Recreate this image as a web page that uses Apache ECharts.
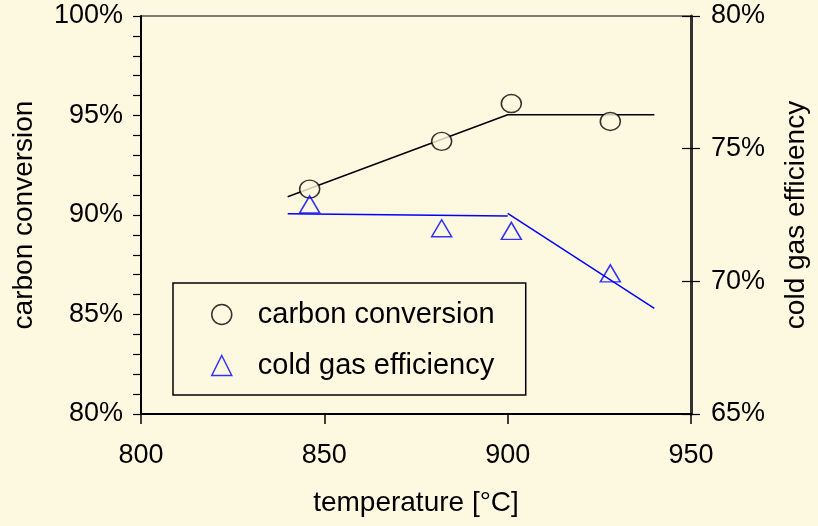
<!DOCTYPE html>
<html>
<head>
<meta charset="utf-8">
<script src="https://cdn.jsdelivr.net/npm/echarts@6/dist/echarts.min.js"></script>
<style>
  html, body { margin: 0; padding: 0; background: #fdf9e1; }
  #chart { width: 818px; height: 526px; }
</style>
</head>
<body>
<div id="chart"></div>
<script>
// Gasification temperature [°C] of each run
const temperatures = [846, 882, 901, 928];
// Measured carbon conversion [%] (left axis)
const carbonConversion = [91.3, 93.7, 95.6, 94.7];
// Measured cold gas efficiency [%] (right axis)
const coldGasEfficiency = [72.9, 72.0, 71.9, 70.3];

// Trend lines: [temperature, value]
const carbonTrend = [[840, 90.92], [900, 95.04], [940, 95.04]];
const coldGasTrendLow = [[840, 72.55], [900, 72.46]];
const coldGasTrendHigh = [[900, 72.56], [940, 68.98]];

// Axis ranges and tick steps
const tempAxis = { min: 800, max: 950, step: 50 };
const carbonAxis = { min: 80, max: 100, step: 5 };
const coldGasAxis = { min: 65, max: 80, step: 5 };

const BG = '#fdf9e1';
const FONT = '"Liberation Sans", Arial, sans-serif';
const BLUE = '#0000ff';

const pairs = (xs, ys) => xs.map((x, i) => [x, ys[i]]);

const chart = echarts.init(document.getElementById('chart'), null, { renderer: 'canvas' });

const yLabel = {
  fontSize: 27, fontFamily: FONT, color: '#000',
  formatter: '{value}%', padding: [6, 0, 0, 0]
};

chart.setOption({
  backgroundColor: BG,
  animation: false,
  textStyle: { fontFamily: FONT, color: '#000' },
  grid: {
    left: 141, right: 120, top: 16, bottom: 112,
    show: true, borderColor: '#000', borderWidth: 1, backgroundColor: BG
  },
  legend: {
    orient: 'vertical',
    left: 173, top: 283,
    padding: [17, 31, 15, 38],
    itemGap: 22,
    itemWidth: 20, itemHeight: 20,
    borderColor: '#000', borderWidth: 1.5, borderRadius: 0,
    backgroundColor: BG,
    selectedMode: false,
    textStyle: { fontSize: 29, fontFamily: FONT, color: '#000', lineHeight: 29, padding: [0, 0, 0, 21] },
    data: [
      { name: 'carbon conversion', icon: 'circle',
        itemStyle: { color: BG, borderColor: '#000', borderWidth: 1.5 } },
      { name: 'cold gas efficiency', icon: 'triangle',
        itemStyle: { color: BG, borderColor: BLUE, borderWidth: 1.5 } }
    ]
  },
  xAxis: {
    type: 'value',
    min: tempAxis.min, max: tempAxis.max, interval: tempAxis.step,
    name: 'temperature [°C]', nameLocation: 'middle', nameGap: 75,
    nameTextStyle: { fontSize: 28, fontFamily: FONT, color: '#000' },
    axisLine: { lineStyle: { color: '#000', width: 2 } },
    axisTick: { length: 10, lineStyle: { color: '#000', width: 1.5 } },
    axisLabel: { fontSize: 27, fontFamily: FONT, color: '#000', margin: 28 },
    splitLine: { show: false }
  },
  yAxis: [
    {
      type: 'value', position: 'left',
      min: carbonAxis.min, max: carbonAxis.max, interval: carbonAxis.step,
      name: 'carbon conversion', nameLocation: 'middle', nameRotate: 90, nameGap: 103,
      nameTextStyle: { fontSize: 28, fontFamily: FONT, color: '#000' },
      axisLine: { show: true, lineStyle: { color: '#000', width: 2 } },
      axisTick: { show: true, length: 8, lineStyle: { color: '#000', width: 1.2 } },
      minorTick: { show: true, splitNumber: 5, length: 8, lineStyle: { color: '#000', width: 1.2 } },
      axisLabel: Object.assign({ margin: 18 }, yLabel),
      splitLine: { show: false }
    },
    {
      type: 'value', position: 'right',
      min: coldGasAxis.min, max: coldGasAxis.max, interval: coldGasAxis.step,
      name: 'cold gas efficiency', nameLocation: 'middle', nameRotate: 90, nameGap: 91,
      nameTextStyle: { fontSize: 28, fontFamily: FONT, color: '#000' },
      axisLine: { show: true, lineStyle: { color: '#333', width: 3 } },
      axisTick: { show: true, length: 9, lineStyle: { color: '#000', width: 1.2 } },
      axisLabel: Object.assign({ margin: 20 }, yLabel),
      splitLine: { show: false }
    },
    {
      // inner half of the right-hand ticks, so they cross the axis line
      type: 'value', position: 'right',
      min: coldGasAxis.min, max: coldGasAxis.max, interval: coldGasAxis.step,
      axisLine: { show: false },
      axisTick: { show: true, inside: true, length: 9, lineStyle: { color: '#000', width: 1.2 } },
      axisLabel: { show: false },
      splitLine: { show: false }
    }
  ],
  series: [
    {
      name: 'carbon trend', type: 'line', yAxisIndex: 0,
      data: carbonTrend, showSymbol: false, symbol: 'none', z: 2,
      lineStyle: { color: '#000', width: 1.5 }
    },
    {
      name: 'cold gas trend low', type: 'line', yAxisIndex: 1,
      data: coldGasTrendLow, showSymbol: false, symbol: 'none', z: 2,
      lineStyle: { color: BLUE, width: 1.5 }
    },
    {
      name: 'cold gas trend high', type: 'line', yAxisIndex: 1,
      data: coldGasTrendHigh, showSymbol: false, symbol: 'none', z: 2,
      lineStyle: { color: BLUE, width: 1.5 }
    },
    {
      name: 'carbon conversion', type: 'scatter', yAxisIndex: 0,
      data: pairs(temperatures, carbonConversion),
      symbol: 'circle', symbolSize: [20, 18], z: 3,
      itemStyle: { color: BG, borderColor: '#000', borderWidth: 1.5 }
    },
    {
      name: 'cold gas efficiency', type: 'scatter', yAxisIndex: 1,
      data: pairs(temperatures, coldGasEfficiency),
      symbol: 'triangle', symbolSize: [20, 17], z: 3,
      itemStyle: { color: 'rgba(0,0,0,0)', borderColor: BLUE, borderWidth: 1.5 }
    }
  ]
});
</script>
</body>
</html>
